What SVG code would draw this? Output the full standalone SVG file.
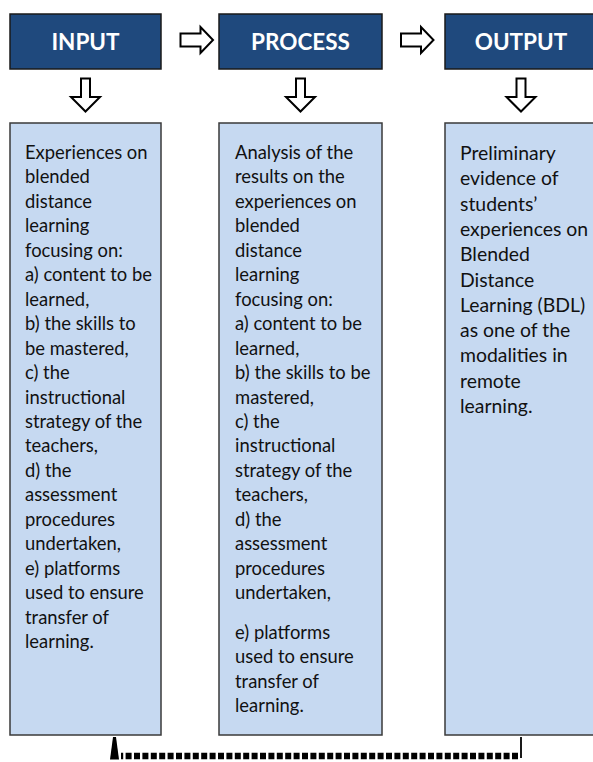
<svg xmlns="http://www.w3.org/2000/svg" width="593" height="762" viewBox="0 0 593 762">
<style>
.hdr{fill:#1F497D;stroke:#1a1a1a;stroke-width:1.5}
.hdrt{font-family:Lato,"Open Sans","Liberation Sans",sans-serif;font-weight:bold;font-size:22.5px;fill:#ffffff;text-anchor:middle}
.body{fill:#C6D9F1;stroke:#3a3a3a;stroke-width:1.5}
.bt{font-family:Lato,"Open Sans","Liberation Sans",sans-serif;font-size:18.4px;fill:#111111}
.bt2{font-family:Lato,"Open Sans","Liberation Sans",sans-serif;font-size:19.4px;fill:#111111}
.blk{fill:#ffffff;stroke:#000000;stroke-width:2;stroke-linejoin:miter}
</style>
<rect width="593" height="762" fill="#ffffff"/>
<g id="input">
<rect class="hdr" x="10" y="14" width="151" height="55"/>
<text class="hdrt" x="85.5" y="49.5">INPUT</text>
</g>
<g id="process">
<rect class="hdr" x="219" y="14" width="163" height="55"/>
<text class="hdrt" x="300.5" y="49.5">PROCESS</text>
</g>
<g id="output">
<rect class="hdr" x="445" y="14" width="152" height="55"/>
<text class="hdrt" x="521" y="49.5">OUTPUT</text>
</g>
<g id="input-body">
<rect class="body" x="10" y="123" width="151" height="612"/>
<text class="bt" x="25" y="159">
<tspan x="25" dy="0">Experiences on</tspan>
<tspan x="25" dy="24.45">blended</tspan>
<tspan x="25" dy="24.45">distance</tspan>
<tspan x="25" dy="24.45">learning</tspan>
<tspan x="25" dy="24.45">focusing on:</tspan>
<tspan x="25" dy="24.45">a) content to be</tspan>
<tspan x="25" dy="24.45">learned,</tspan>
<tspan x="25" dy="24.45">b) the skills to</tspan>
<tspan x="25" dy="24.45">be mastered,</tspan>
<tspan x="25" dy="24.45">c) the</tspan>
<tspan x="25" dy="24.45">instructional</tspan>
<tspan x="25" dy="24.45">strategy of the</tspan>
<tspan x="25" dy="24.45">teachers,</tspan>
<tspan x="25" dy="24.45">d) the</tspan>
<tspan x="25" dy="24.45">assessment</tspan>
<tspan x="25" dy="24.45">procedures</tspan>
<tspan x="25" dy="24.45">undertaken,</tspan>
<tspan x="25" dy="24.45">e) platforms</tspan>
<tspan x="25" dy="24.45">used to ensure</tspan>
<tspan x="25" dy="24.45">transfer of</tspan>
<tspan x="25" dy="24.45">learning.</tspan>
</text>
</g>
<g id="process-body">
<rect class="body" x="219" y="123" width="163" height="612"/>
<text class="bt" x="235" y="159">
<tspan x="235" dy="0">Analysis of the</tspan>
<tspan x="235" dy="24.45">results on the</tspan>
<tspan x="235" dy="24.45">experiences on</tspan>
<tspan x="235" dy="24.45">blended</tspan>
<tspan x="235" dy="24.45">distance</tspan>
<tspan x="235" dy="24.45">learning</tspan>
<tspan x="235" dy="24.45">focusing on:</tspan>
<tspan x="235" dy="24.45">a) content to be</tspan>
<tspan x="235" dy="24.45">learned,</tspan>
<tspan x="235" dy="24.45">b) the skills to be</tspan>
<tspan x="235" dy="24.45">mastered,</tspan>
<tspan x="235" dy="24.45">c) the</tspan>
<tspan x="235" dy="24.45">instructional</tspan>
<tspan x="235" dy="24.45">strategy of the</tspan>
<tspan x="235" dy="24.45">teachers,</tspan>
<tspan x="235" dy="24.45">d) the</tspan>
<tspan x="235" dy="24.45">assessment</tspan>
<tspan x="235" dy="24.45">procedures</tspan>
<tspan x="235" dy="24.45">undertaken,</tspan>
<tspan x="235" dy="39.5">e) platforms</tspan>
<tspan x="235" dy="24.45">used to ensure</tspan>
<tspan x="235" dy="24.45">transfer of</tspan>
<tspan x="235" dy="24.45">learning.</tspan>
</text>
</g>
<g id="output-body">
<rect class="body" x="445" y="123" width="152" height="612"/>
<text class="bt2" x="460" y="160">
<tspan x="460" dy="0">Preliminary</tspan>
<tspan x="460" dy="25.3">evidence of</tspan>
<tspan x="460" dy="25.3">students’</tspan>
<tspan x="460" dy="25.3">experiences on</tspan>
<tspan x="460" dy="25.3">Blended</tspan>
<tspan x="460" dy="25.3">Distance</tspan>
<tspan x="460" dy="25.3">Learning (BDL)</tspan>
<tspan x="460" dy="25.3">as one of the</tspan>
<tspan x="460" dy="25.3">modalities in</tspan>
<tspan x="460" dy="25.3">remote</tspan>
<tspan x="460" dy="25.3">learning.</tspan>
</text>
</g>
<g id="connectors">
<path class="blk" d="M180.5,33.5 H200.5 V27 L213,40 L200.5,53 V46.5 H180.5 Z"/>
<path class="blk" d="M401,33.5 H421 V27 L433.5,40 L421,53 V46.5 H401 Z"/>
<path class="blk" d="M81,78.5 H90 V97 H100 L85.5,111.5 L71,97 H81 Z"/>
<path class="blk" d="M296,78.5 H305 V97 H315 L300.5,111.5 L286,97 H296 Z"/>
<path class="blk" d="M516.5,78.5 H525.5 V97 H535.5 L521,111.5 L506.5,97 H516.5 Z"/>
<line x1="521" y1="737" x2="521" y2="758" stroke="#1a1a1a" stroke-width="2"/>
<line x1="518" y1="756" x2="121" y2="756" stroke="#000000" stroke-width="6.5" stroke-dasharray="6 2.4"/>
<polygon points="113,737 116,737 119,759.5 110,759.5" fill="#000000"/>
</g>
</svg>
